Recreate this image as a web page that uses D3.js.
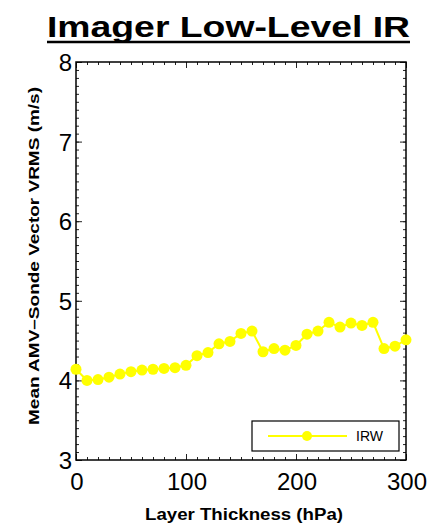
<!DOCTYPE html>
<html>
<head>
<meta charset="utf-8">
<script src="https://cdn.jsdelivr.net/npm/d3@7"></script>
<style>
  body { margin: 0; background: #fff; }
  text { font-family: "Liberation Sans", Arial, sans-serif; }
</style>
</head>
<body>
<div id="chart"></div>
<script>
// layer thickness (hPa) and mean VRMS (m/s) for IRW
var thickness = [0, 10, 20, 30, 40, 50, 60, 70, 80, 90, 100, 110, 120, 130, 140, 150,
    160, 170, 180, 190, 200, 210, 220, 230, 240, 250, 260, 270, 280, 290, 300];
var irw = [4.14, 4.00, 4.01, 4.04, 4.08, 4.11, 4.13, 4.14, 4.15, 4.16, 4.19, 4.31, 4.35,
    4.46, 4.49, 4.59, 4.62, 4.36, 4.40, 4.38, 4.44, 4.58, 4.62, 4.73, 4.67, 4.72, 4.69,
    4.73, 4.40, 4.43, 4.51];
var xTicks = [0, 100, 200, 300];
var yTicks = [3, 4, 5, 6, 7, 8];
var seriesName = 'IRW';

var width = 447;
var height = 525;
var margin = ({ top: 62, right: 41, bottom: 65, left: 76 });

var x = d3.scaleLinear()
    .domain([0, 300])
    .range([margin.left, width - margin.right]);
var y = d3.scaleLinear()
    .domain([3, 8])
    .range([height - margin.bottom, margin.top]);

var svg = d3.select('#chart')
    .append('svg')
    .attr('width', width)
    .attr('height', height);

// title (stretched a bit, like the slide it came from)
svg.append('text')
    .attr('x', 47)
    .attr('y', 37)
    .attr('textLength', 363)
    .attr('lengthAdjust', 'spacingAndGlyphs')
    .style('font-size', '30px')
    .style('font-weight', 'bold')
    .text('Imager Low-Level IR');
svg.append('line')
    .attr('x1', 47).attr('x2', 410)
    .attr('y1', 42).attr('y2', 42)
    .attr('stroke', '#000')
    .attr('stroke-width', 2.5);

var minorX = d3.range(0, 301, 10);
var minorY = d3.range(30, 81, 1).map(d => d / 10);

// inward ticks on all four sides
var bottomAxis = g => g
    .attr('transform', `translate(0,${y(3)})`)
    .call(d3.axisTop(x).tickValues(minorX).tickSize(3).tickFormat(''))
    .call(g => g.append('g').call(d3.axisTop(x).tickValues(xTicks).tickSize(6).tickFormat('')))
    .call(g => g.selectAll('.domain').remove());
var topAxis = g => g
    .attr('transform', `translate(0,${y(8)})`)
    .call(d3.axisBottom(x).tickValues(minorX).tickSize(3).tickFormat(''))
    .call(g => g.append('g').call(d3.axisBottom(x).tickValues(xTicks).tickSize(6).tickFormat('')))
    .call(g => g.selectAll('.domain').remove());
var leftAxis = g => g
    .attr('transform', `translate(${x(0)},0)`)
    .call(d3.axisRight(y).tickValues(minorY).tickSize(3).tickFormat(''))
    .call(g => g.append('g').call(d3.axisRight(y).tickValues(yTicks).tickSize(6).tickFormat('')))
    .call(g => g.selectAll('.domain').remove());
var rightAxis = g => g
    .attr('transform', `translate(${x(300)},0)`)
    .call(d3.axisLeft(y).tickValues(minorY).tickSize(3).tickFormat(''))
    .call(g => g.append('g').call(d3.axisLeft(y).tickValues(yTicks).tickSize(6).tickFormat('')))
    .call(g => g.selectAll('.domain').remove());

svg.append('g').call(bottomAxis);
svg.append('g').call(topAxis);
svg.append('g').call(leftAxis);
svg.append('g').call(rightAxis);
svg.selectAll('.tick line').attr('stroke', '#222').attr('stroke-width', 1);

svg.append('rect')
    .attr('x', x(0)).attr('y', y(8))
    .attr('width', x(300) - x(0))
    .attr('height', y(3) - y(8))
    .attr('fill', 'none')
    .attr('stroke', '#000')
    .attr('stroke-width', 1.5);

// tick labels
svg.append('g')
    .selectAll('text').data(xTicks).enter().append('text')
    .attr('x', d => x(d) + 1)
    .attr('y', y(3) + 30)
    .attr('text-anchor', 'middle')
    .style('font-size', '24px')
    .text(d => d);
svg.append('g')
    .selectAll('text').data(yTicks).enter().append('text')
    .attr('x', x(0) - 4)
    .attr('y', d => y(d) + 9)
    .attr('text-anchor', 'end')
    .style('font-size', '24px')
    .text(d => d);

// axis titles
svg.append('text')
    .attr('x', 145)
    .attr('y', 520)
    .attr('textLength', 198)
    .attr('lengthAdjust', 'spacingAndGlyphs')
    .style('font-size', '16px')
    .style('font-weight', 'bold')
    .text('Layer Thickness (hPa)');
svg.append('text')
    .attr('transform', `translate(39,425) rotate(-90)`)
    .attr('textLength', 338)
    .attr('lengthAdjust', 'spacingAndGlyphs')
    .style('font-size', '15px')
    .style('font-weight', 'bold')
    .text('Mean AMV\u2013Sonde Vector VRMS (m/s)');

// series
var line = d3.line()
    .x((d, i) => x(thickness[i]))
    .y(d => y(d));
svg.append('path')
    .datum(irw)
    .attr('fill', 'none')
    .attr('stroke', '#ffff00')
    .attr('stroke-width', 2)
    .attr('d', line);
svg.append('g')
    .attr('fill', '#ffff00')
    .selectAll('circle').data(irw).enter().append('circle')
    .attr('cx', (d, i) => x(thickness[i]))
    .attr('cy', d => y(d))
    .attr('r', 5.5);

// legend
var legend = svg.append('g');
legend.append('rect')
    .attr('x', 252).attr('y', 421)
    .attr('width', 147).attr('height', 30)
    .attr('fill', '#fff')
    .attr('stroke', '#000')
    .attr('stroke-width', 1.2);
legend.append('line')
    .attr('x1', 268).attr('x2', 347)
    .attr('y1', 436).attr('y2', 436)
    .attr('stroke', '#ffff00')
    .attr('stroke-width', 2);
legend.append('circle')
    .attr('cx', 307).attr('cy', 436)
    .attr('r', 5)
    .attr('fill', '#ffff00');
legend.append('text')
    .attr('x', 356).attr('y', 441)
    .style('font-size', '14px')
    .text(seriesName);
</script>
</body>
</html>
